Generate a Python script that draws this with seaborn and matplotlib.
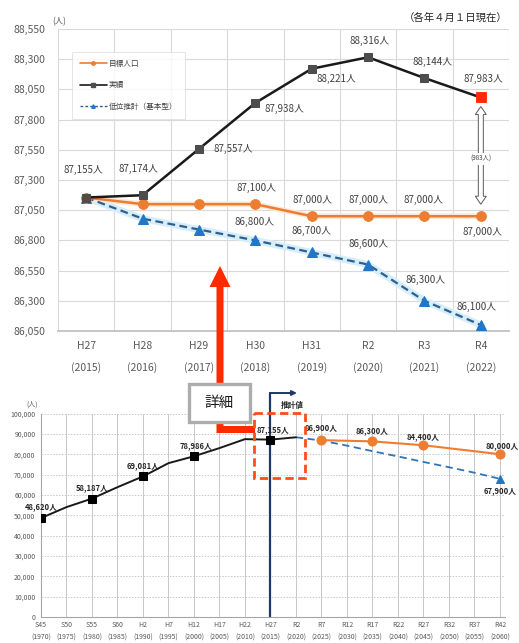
import matplotlib
matplotlib.use("Agg")
import matplotlib.pyplot as plt
import matplotlib.patches as mpatches
from matplotlib.lines import Line2D
from matplotlib.ticker import FuncFormatter
import numpy as np
import seaborn as sns

# ---- 詳細（H27〜R4） ----
era_labels = ["H27", "H28", "H29", "H30", "H31", "R2", "R3", "R4"]
year_labels = ["2015", "2016", "2017", "2018", "2019", "2020", "2021", "2022"]
actual_pop = [87155, 87174, 87557, 87938, 88221, 88316, 88144, 87983]
target_pop = [87155, 87100, 87100, 87100, 87000, 87000, 87000, 87000]
low_pop = [87155, 86980, 86890, 86800, 86700, 86600, 86300, 86100]
labeled_idx = [3, 4, 5, 6, 7]

# ---- 長期推移（S45〜R42） ----
tick_years = list(range(1970, 2061, 5))
tick_eras = ["S45", "S50", "S55", "S60", "H2", "H7", "H12", "H17", "H22", "H27",
             "R2", "R7", "R12", "R17", "R22", "R27", "R32", "R37", "R42"]
hist_years = [1970, 1975, 1980, 1985, 1990, 1995, 2000, 2005, 2010, 2015, 2020]
hist_pop = [48620, 54000, 58187, 63800, 69081, 75600, 78986, 83000, 87400, 87155, 88316]
hist_labeled = [1970, 1980, 1990, 2000, 2015]
goal_years = [2025, 2035, 2045, 2060]
goal_pop = [86900, 86300, 84400, 80000]
proj_years = [2020, 2025, 2030, 2035, 2040, 2045, 2050, 2055, 2060]
proj_pop = [88316, 86700, 84200, 81500, 78900, 76200, 73600, 70900, 67900]
projection_start = 2015

ORANGE = "#ED7D31"
BLACK = "#1a1a1a"
GREY_MARK = "#4d4d4d"
BLUE_LINE = "#2F5F8F"
BLUE_MARK = "#2176C7"
NAVY = "#1F3864"
RED = "#FF2A00"
TXT = "#404040"

sns.set_theme(style="white")
plt.rcParams["font.family"] = ["Noto Sans CJK JP", "DejaVu Sans"]

W, H = 519, 643
fig = plt.figure(figsize=(W / 100, H / 100), dpi=100)
fig.patch.set_facecolor("white")


def add_px_axes(left, top, right, bottom):
    return fig.add_axes([left / W, 1 - bottom / H, (right - left) / W, (bottom - top) / H])


def put(ax, x, y, text, dx, dy, ha="center", **kw):
    ax.annotate(text, (x, y), xytext=(dx, dy), textcoords="offset pixels",
                ha=ha, va="center", annotation_clip=False, **kw)


thousands = FuncFormatter(lambda v, p: f"{int(v):,}")

# ================= 上段：詳細 =================
ax1 = add_px_axes(58, 29, 509, 331)
pos = np.arange(len(era_labels))

sns.lineplot(x=pos, y=low_pop, ax=ax1, color="#d6edfa", lw=5, legend=False, zorder=2)
sns.lineplot(x=pos, y=low_pop, ax=ax1, color=BLUE_LINE, lw=1.6, linestyle=(0, (3.5, 2)),
             marker="^", markersize=7, markerfacecolor=BLUE_MARK, markeredgecolor=BLUE_MARK,
             legend=False, clip_on=False, zorder=3)
sns.lineplot(x=pos, y=target_pop, ax=ax1, color="#fde7d8", lw=4, legend=False, zorder=2)
sns.lineplot(x=pos, y=target_pop, ax=ax1, color=ORANGE, lw=1.8, marker="o", markersize=7,
             markerfacecolor=ORANGE, markeredgecolor=ORANGE, legend=False, zorder=3)
sns.lineplot(x=pos, y=actual_pop, ax=ax1, color=BLACK, lw=1.8, marker="s", markersize=5.5,
             markerfacecolor=GREY_MARK, markeredgecolor=GREY_MARK, legend=False, zorder=4)
sns.scatterplot(x=[pos[-1]], y=[actual_pop[-1]], ax=ax1, marker="s", s=62, color=RED,
                edgecolor=RED, legend=False, zorder=6)

ax1.set_xlim(-0.5, len(pos) - 0.5)
ax1.set_ylim(86050, 88550)
ax1.set_yticks(np.arange(86050, 88551, 250))
ax1.yaxis.set_major_formatter(thousands)
ax1.set_xticks(pos)
ax1.set_xticklabels([f"{e}\n({y})" for e, y in zip(era_labels, year_labels)], linespacing=2.3)
ax1.set_xticks(np.arange(-0.5, len(pos), 1), minor=True)
ax1.tick_params(axis="both", which="both", length=0)
ax1.tick_params(axis="y", labelsize=7.5, labelcolor="#595959", pad=9)
ax1.tick_params(axis="x", labelsize=7.5, labelcolor="#595959", pad=7)
ax1.grid(False)
ax1.grid(True, axis="y", which="major", color="#d9d9d9", lw=0.8)
ax1.grid(True, axis="x", which="minor", color="#d9d9d9", lw=0.8)
for s in ax1.spines.values():
    s.set_visible(False)
ax1.spines["bottom"].set_visible(True)
ax1.spines["bottom"].set_color("#bfbfbf")
ax1.set_xlabel("")
ax1.set_ylabel("")

actual_off = [(-3, 28, "center"), (-4, 26, "center"), (15, 0, "left"), (9, -6, "left"),
              (5, -10, "left"), (1, 16, "center"), (8, 16, "center"), (3, 19, "center")]
for i, (dx, dy, ha) in enumerate(actual_off):
    put(ax1, pos[i], actual_pop[i], f"{actual_pop[i]:,}人", dx, dy, ha=ha, fontsize=7, color=TXT)

target_off = [(1, 16), (1, 16), (0, 16), (-1, 16), (2, -16)]
for i, (dx, dy) in zip(labeled_idx, target_off):
    put(ax1, pos[i], target_pop[i], f"{target_pop[i]:,}人", dx, dy, fontsize=7, color=TXT)

low_off = [(-1, 18), (0, 21), (0, 21), (1, 21), (-4, 18)]
for i, (dx, dy) in zip(labeled_idx, low_off):
    put(ax1, pos[i], low_pop[i], f"{low_pop[i]:,}人", dx, dy, fontsize=7, color=TXT)

handles = [
    Line2D([], [], color=ORANGE, lw=1.2, marker="o", ms=2.5),
    Line2D([], [], color=BLACK, lw=1.2, marker="s", ms=2.5, mfc=GREY_MARK, mec=GREY_MARK),
    Line2D([], [], color=BLUE_LINE, lw=1.0, ls=(0, (2, 1.5)), marker="^", ms=2.5,
           mfc=BLUE_MARK, mec=BLUE_MARK),
]
leg = ax1.legend(handles, ["目標人口", "実績", "低位推計（基本型）"], loc="upper left",
                 bbox_to_anchor=(72 / W, 1 - 52 / H), bbox_transform=fig.transFigure,
                 fontsize=5.5, frameon=True, fancybox=False, edgecolor="#d9d9d9",
                 handlelength=3.6, handletextpad=0.2, labelspacing=1.8, borderpad=1.0,
                 borderaxespad=0)
leg.get_frame().set_linewidth(0.6)
for t in leg.get_texts():
    t.set_color(TXT)

fig.text(59 / W, 1 - 22 / H, "(人)", fontsize=6, color="#595959", ha="center", va="center")
fig.text(508 / W, 1 - 18 / H, "（各年４月１日現在）", fontsize=7.5, color="#262626",
         ha="right", va="center")

# ================= 下段：長期推移 =================
ax2 = add_px_axes(41, 413.5, 505, 617)

hist_marks = [hist_years.index(y) for y in hist_labeled]
sns.lineplot(x=proj_years, y=proj_pop, ax=ax2, color="#2E75B6", lw=1.3, linestyle=(0, (4, 2.5)),
             marker="^", markersize=6, markevery=[len(proj_years) - 1],
             markerfacecolor=BLUE_MARK, markeredgecolor=BLUE_MARK, legend=False, zorder=3)
sns.lineplot(x=goal_years, y=goal_pop, ax=ax2, color=ORANGE, lw=1.5, marker="o", markersize=6.5,
             markerfacecolor=ORANGE, markeredgecolor=ORANGE, legend=False, zorder=4)
sns.lineplot(x=hist_years, y=hist_pop, ax=ax2, color=BLACK, lw=1.4, marker="s", markersize=6,
             markevery=hist_marks, markerfacecolor="black", markeredgecolor="black",
             legend=False, zorder=5)

ax2.set_xlim(1970, 2061)
ax2.set_ylim(0, 100000)
ax2.set_yticks(np.arange(0, 100001, 10000))
ax2.yaxis.set_major_formatter(thousands)
ax2.set_xticks(tick_years)
ax2.set_xticklabels([f"{e}\n({y})" for e, y in zip(tick_eras, tick_years)], linespacing=1.7)
ax2.tick_params(axis="both", length=0)
ax2.tick_params(axis="y", labelsize=5, labelcolor="#595959", pad=4)
ax2.tick_params(axis="x", labelsize=5, labelcolor="#595959", pad=3)
ax2.grid(False)
ax2.grid(True, axis="x", color="#c8c8c8", lw=0.7)
ax2.grid(True, axis="y", color="#c8c8c8", lw=0.7, linestyle=(0, (1.5, 1.5)))
for s in ax2.spines.values():
    s.set_visible(False)
for side in ("left", "bottom"):
    ax2.spines[side].set_visible(True)
    ax2.spines[side].set_color("#a6a6a6")
    ax2.spines[side].set_linewidth(0.8)
ax2.set_xlabel("")
ax2.set_ylabel("")

# 推計値の開始線
y_top = ax2.transData.inverted().transform((0, H - 393))[1]
ax2.plot([projection_start, projection_start], [0, y_top], color=NAVY, lw=1.6,
         clip_on=False, zorder=2.5)
ax2.annotate("", xy=(projection_start + 5.2, y_top), xytext=(projection_start - 0.08, y_top),
             arrowprops=dict(arrowstyle="-|>", color=NAVY, lw=1.4, mutation_scale=7,
                             shrinkA=0, shrinkB=0), annotation_clip=False)
ax2.annotate("推計値", (projection_start, y_top), xytext=(22, -12), textcoords="offset pixels",
             ha="center", va="center", fontsize=5.5, fontweight="bold", color="#262626",
             annotation_clip=False)

hist_off = {1970: (0, 11), 1980: (0, 11), 1990: (0, 11), 2000: (2, 11), 2015: (2, 10)}
for yr in hist_labeled:
    v = hist_pop[hist_years.index(yr)]
    dx, dy = hist_off[yr]
    put(ax2, yr, v, f"{v:,}人", dx, dy, fontsize=5.5, fontweight="bold", color="#262626")
goal_off = [(0, 13), (0, 11), (0, 9), (2, 9)]
for yr, v, (dx, dy) in zip(goal_years, goal_pop, goal_off):
    put(ax2, yr, v, f"{v:,}人", dx, dy, fontsize=5.5, fontweight="bold", color="#262626")
put(ax2, proj_years[-1], proj_pop[-1], f"{proj_pop[-1]:,}人", 0, -12,
    fontsize=5.5, fontweight="bold", color="#262626")

fig.text(32 / W, 1 - 405 / H, "(人)", fontsize=5, color="#595959", ha="center", va="center")

# ================= 注記レイヤー（ピクセル座標） =================
ov = fig.add_axes([0, 0, 1, 1], zorder=10)
ov.set_xlim(0, W)
ov.set_ylim(H, 0)
ov.axis("off")
ov.patch.set_alpha(0)


def to_px(ax, x, y):
    dx, dy = ax.transData.transform((x, y))
    return dx, H - dy


# 実績と目標の差（R4）
xr, yr_ = to_px(ax1, pos[-1], actual_pop[-1])
_, yo = to_px(ax1, pos[-1], target_pop[-1])
mid = (yr_ + yo) / 2 + 2
for tip in (yr_ + 9, yo - 12):
    ov.add_patch(mpatches.FancyArrow(xr, mid, 0, tip - mid, width=5, head_width=11,
                                     head_length=8, length_includes_head=True,
                                     fc="white", ec="#595959", lw=0.7))
ov.text(xr, mid, f"({actual_pop[-1] - target_pop[-1]:,}人)", fontsize=4.5, color=TXT,
        ha="center", va="center", bbox=dict(fc="white", ec="none", pad=1.2))

# 詳細への赤矢印
red_shape = [(220, 266), (230.5, 287), (223.5, 287), (223.5, 426), (255, 426), (255, 433),
             (216.5, 433), (216.5, 287), (209.5, 287)]
ov.add_patch(mpatches.Polygon(red_shape, closed=True, fc=RED, ec="none"))
ov.add_patch(mpatches.Rectangle((189, 384), 61, 38, fc="white", ec="#adadad", lw=2.4))
ov.text(219.5, 403, "詳細", fontsize=10.5, color="#1a1a1a", ha="center", va="center")

# 詳細範囲の破線枠
ov.add_patch(mpatches.Rectangle((254, 413), 51, 65, fill=False, ec="#FF4D1A", lw=2.0,
                                linestyle=(0, (3, 1.6))))

fig.savefig("out.png", dpi=100, facecolor="white")
